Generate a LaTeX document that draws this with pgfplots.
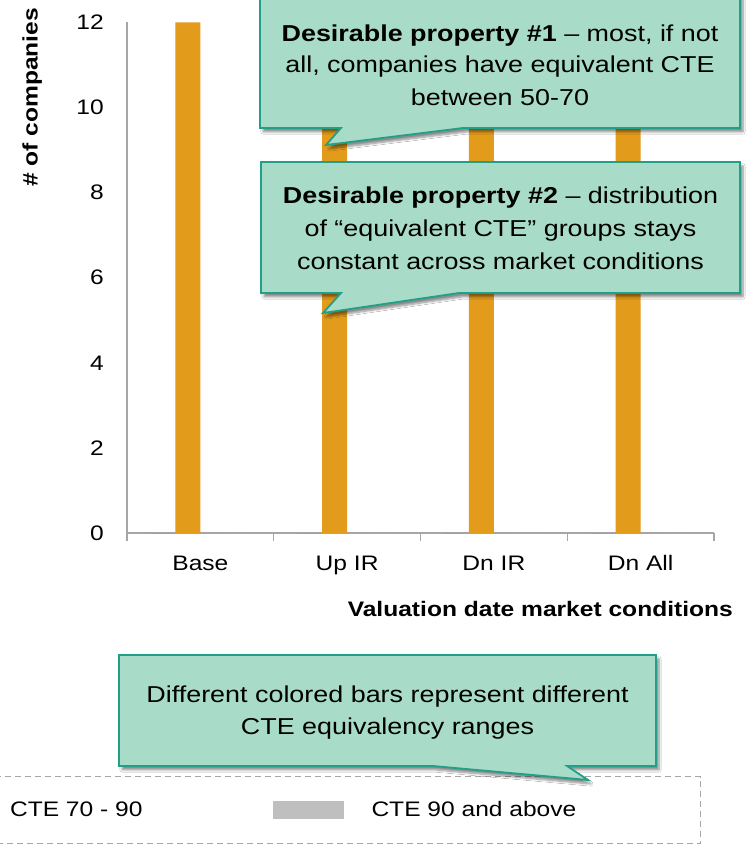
\documentclass[border=0pt]{standalone}
\usepackage{fontspec}
\setmainfont{Liberation Sans}[FakeStretch=1.17]
\usepackage{pgfplots}
\pgfplotsset{compat=1.18}
\usetikzlibrary{shadows.blur}
\definecolor{calfill}{HTML}{A8DCC9}
\definecolor{calline}{HTML}{22A087}
\definecolor{barorange}{HTML}{E39B1B}
\definecolor{barblue}{HTML}{4F81BD}
\definecolor{bargreen}{HTML}{9BBB59}
\definecolor{axgray}{HTML}{A6A6A6}
\definecolor{leggray}{HTML}{BFBFBF}
\newcommand\fa{\fontsize{21pt}{25pt}\selectfont}
\newcommand\fb{\fontsize{23pt}{32pt}\selectfont}
\pgfplotsset{legrect/.style={legend image code/.code={\path[##1,draw=none] (0pt,-9pt) rectangle (71pt,9pt);}}}
\begin{document}
\begin{tikzpicture}[x=1pt,y=1pt]
\useasboundingbox (0,0) rectangle (750,844);
\fill[white] (0,0) rectangle (750,844);
\begin{axis}[
  at={(127pt,311pt)}, anchor=south west,
  scale only axis, width=587pt, height=510.5pt,
  xmin=-0.5, xmax=3.5, ymin=0, ymax=12,
  axis x line*=bottom, axis y line*=left,
  axis line style={axgray, line width=1.3pt},
  ybar, bar width=25pt,
  /pgf/number format/assume math mode=true,
  xtick={0,1,2,3},
  xticklabels={Base,Up IR,Dn IR,Dn All},
  minor xtick={-0.5,0.5,1.5,2.5,3.5},
  major tick length=0pt, minor tick length=8pt, tick align=outside,
  tick style={axgray, line width=1.3pt},
  ytick={0,2,4,6,8,10,12},
  xticklabel style={font=\fa, text height=15pt, text depth=5pt, inner sep=0pt, anchor=north, yshift=-22pt},
  yticklabel style={font=\fa, inner sep=0pt, anchor=east, xshift=-23pt},
  legend columns=2,
  legend cell align=left,
  legend style={at={(axis description cs:0.97785,-0.47600)}, anchor=north east,
    draw=axgray, line width=1.2pt, dash pattern=on 6pt off 4pt,
    inner xsep=124pt, inner ysep=24.5pt, font=\fa,
    nodes={inner xsep=0pt, inner ysep=0pt},
    /tikz/every odd column/.append style={column sep=28pt},
    /tikz/every even column/.append style={column sep=130pt}},
]
\addplot[fill=barblue, draw=none, bar shift=-37.5pt, forget plot] coordinates {(0,0) (1,0) (2,0) (3,0)};
\addplot[fill=barorange, draw=none, bar shift=-12.5pt, forget plot] coordinates {(0,12) (1,12) (2,12) (3,12)};
\addplot[fill=bargreen, draw=none, bar shift=12.5pt, legrect] coordinates {(0,0) (1,0) (2,0) (3,0)};
\addlegendentry{CTE 70 - 90}
\addplot[fill=leggray, draw=none, bar shift=37.5pt, legrect] coordinates {(0,0) (1,0) (2,0) (3,0)};
\addlegendentry{CTE 90 and above}
\end{axis}
% axis titles
\node[rotate=90, anchor=base, inner sep=0pt, font=\fa\bfseries] at (37.5,746.5) {\# of companies};
\node[anchor=base east, inner sep=0pt, font=\fa\bfseries] at (733,227) {Valuation date market conditions};
% callouts
\tikzset{callout/.style={fill=calfill, draw=calline, line width=1.8pt, line join=miter,
  blur shadow={shadow xshift=3pt, shadow yshift=-4pt, shadow opacity=45, shadow blur steps=8}}}
\path[callout] (260,854) -- (740,854) -- (740,716) -- (463,716) -- (326,699) -- (341,716) -- (260,716) -- cycle;
\node[anchor=base, inner sep=0pt, font=\fb] at (500,802) {\textbf{Desirable property \#1} – most, if not};
\node[anchor=base, inner sep=0pt, font=\fb] at (500,771) {all, companies have equivalent CTE};
\node[anchor=base, inner sep=0pt, font=\fb] at (500,738) {between 50-70};
\path[callout] (261,682) -- (740,682) -- (740,551) -- (459,551) -- (323,531) -- (341,551) -- (261,551) -- cycle;
\node[anchor=base, inner sep=0pt, font=\fb] at (500.5,640) {\textbf{Desirable property \#2} – distribution};
\node[anchor=base, inner sep=0pt, font=\fb] at (500.5,607) {of “equivalent CTE” groups stays};
\node[anchor=base, inner sep=0pt, font=\fb] at (500.5,574.5) {constant across market conditions};
\path[callout] (119,189) -- (656,189) -- (656,78) -- (567,78) -- (588,64) -- (433,78) -- (119,78) -- cycle;
\node[anchor=base, inner sep=0pt, font=\fb] at (387.5,141) {Different colored bars represent different};
\node[anchor=base, inner sep=0pt, font=\fb] at (387.5,109) {CTE equivalency ranges};
\end{tikzpicture}
\end{document}
